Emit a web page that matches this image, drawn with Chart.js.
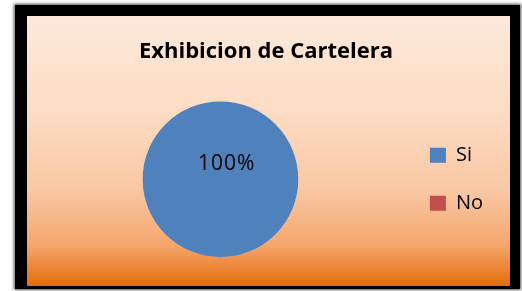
<!DOCTYPE html>
<html>
<head>
<meta charset="utf-8">
<script src="https://cdn.jsdelivr.net/npm/chart.js@4/dist/chart.umd.min.js"></script>
<style>
    body { margin: 0; background: #fff; width: 522px; height: 291px; overflow: hidden; position: relative; }
    #frame {
        position: absolute; left: 15px; top: 5px; width: 505px; height: 284px;
        background: #000; box-shadow: 0 0 3px 1px rgba(0,0,0,0.7);
    }
    #box {
        position: absolute; left: 27px; top: 16px; width: 483px; height: 270px;
        background: linear-gradient(to bottom, #fde9da 0%, #fcdcc4 35%, #f9c7a2 65%, #f4a66c 85%, #e46c0a 100%);
    }
</style>
</head>
<body>
<div id="frame"></div>
<div id="box"><canvas id="pieChart"></canvas></div>
<script>
// Donnees du graphique
const chartTitle = 'Exhibicion de Cartelera';
const categories = ['Si', 'No'];
const valores = [100, 0];
const colores = ['#4f81bd', '#c0504d'];

// Etiquette de pourcentage sur la part
const pctLabels = {
    id: 'pctLabels',
    afterDatasetsDraw(chart) {
        const ctx = chart.ctx;
        const total = valores.reduce((a, b) => a + b, 0);
        chart.getDatasetMeta(0).data.forEach((arc, i) => {
            if (!valores[i]) return;
            const pct = Math.round(valores[i] / total * 100) + '%';
            const r = arc.outerRadius;
            ctx.save();
            ctx.fillStyle = '#000';
            ctx.font = '21px "Open Sans"';
            ctx.letterSpacing = '1px';
            ctx.textAlign = 'center';
            ctx.textBaseline = 'middle';
            ctx.fillText(pct, arc.x + r * 0.08, arc.y - r * 0.2);
            ctx.restore();
        });
    }
};

new Chart(document.getElementById('pieChart'), {
    type: 'pie',
    data: {
        labels: categories,
        datasets: [{
            data: valores,
            backgroundColor: colores,
            borderWidth: 0
        }]
    },
    options: {
        responsive: true,
        maintainAspectRatio: false,
        animation: false,
        layout: { padding: { top: 0, bottom: 29, left: 12, right: 17 } },
        plugins: {
            title: {
                display: true,
                text: chartTitle,
                color: '#000',
                font: { family: 'Open Sans', size: 22, weight: 'bold' },
                padding: { top: 23, bottom: 36 }
            },
            legend: {
                position: 'right',
                fullSize: false,
                labels: {
                    color: '#000',
                    font: { family: 'Open Sans', size: 20 },
                    boxWidth: 16,
                    boxHeight: 15,
                    padding: 28
                }
            },
            tooltip: { enabled: false }
        }
    },
    plugins: [pctLabels]
});
</script>
</body>
</html>
